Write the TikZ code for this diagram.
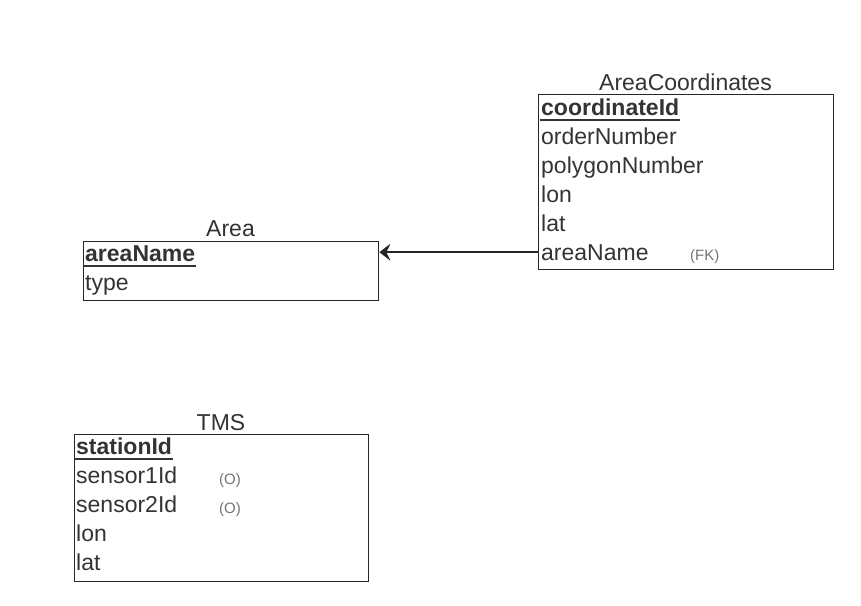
\documentclass[tikz,border=0pt]{standalone}
\usepackage{fontspec}
\setmainfont{Liberation Sans}
\usetikzlibrary{positioning, arrows.meta}

\begin{document}
\begin{tikzpicture}[
    x=1pt, y=-1pt,
    table/.style={draw=black!85, line width=1.4pt, minimum width=295pt, inner sep=0pt, anchor=north west},
    title/.style={font=\fontsize{23}{27}\selectfont, text=black!80, anchor=base, inner sep=0pt},
    field/.style={font=\fontsize{23}{27}\selectfont, text=black!80, anchor=base west, inner sep=1pt},
    key/.style={field, font=\fontsize{23}{27}\selectfont\bfseries},
    keyline/.style={draw=black!80, line width=1.6pt},
    tag/.style={font=\fontsize{15}{18}\selectfont, text=black!55, anchor=base west, inner sep=0pt},
    arrow/.style={-{Stealth[length=11pt, width=17pt, inset=4pt]}, line width=1.6pt, draw=black!85},
]
\useasboundingbox (0,0) rectangle (861,605);

% Nodes
\node[table, minimum height=175pt] (coords) at (538,94) {};
\node[title] (coordsTitle) at (685.5,90) {AreaCoordinates};
\node[key] (coordsKey) at (540,115) {coordinateId};
\foreach \name [count=\i] in {orderNumber, polygonNumber, lon, lat, areaName}
    \node[field] (coords-\i) at (540,115+29*\i) {\name};
\node[tag] (coordsFk) at (690,260) {(FK)};

\node[table, minimum height=59pt] (area) at (83,241) {};
\node[title] (areaTitle) at (230.5,236) {Area};
\node[key] (areaKey) at (84,261) {areaName};
\node[field] (area-1) at (84,290) {type};

\node[table, minimum width=294pt, minimum height=147pt] (tms) at (74,434) {};
\node[title] (tmsTitle) at (221,430) {TMS};
\node[key] (tmsKey) at (75,454) {stationId};
\foreach \name [count=\i] in {sensor1Id, sensor2Id, lon, lat}
    \node[field] (tms-\i) at (75,454+29*\i) {\name};
\node[tag] (tmsOpt1) at (219,484) {(O)};
\node[tag] (tmsOpt2) at (219,513) {(O)};

% Key underlines
\foreach \k in {coordsKey, areaKey, tmsKey}
    \draw[keyline] ([yshift=-5pt]\k.base west) -- ([yshift=-5pt]\k.base east);

% Foreign key arrow
\draw[arrow] (coords.west |- coords-5.west) -- (area.east |- coords-5.west);

\end{tikzpicture}
\end{document}
